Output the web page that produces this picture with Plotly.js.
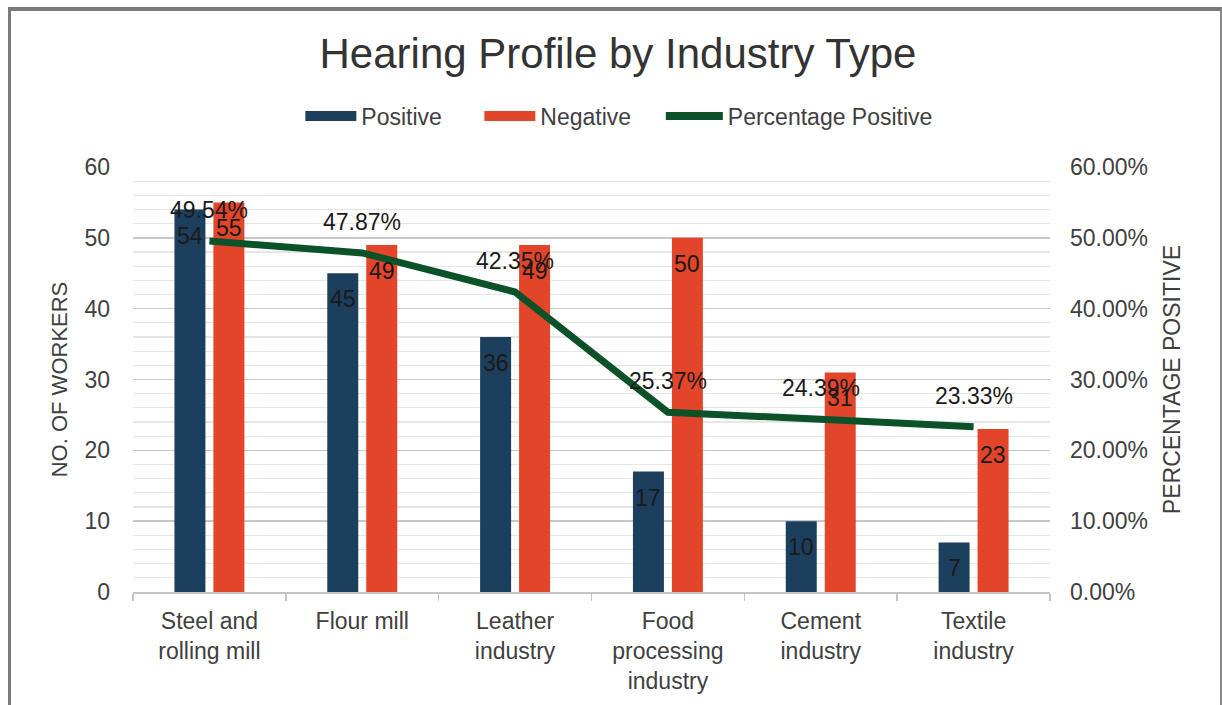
<!DOCTYPE html>
<html>
<head>
<meta charset="utf-8">
<script src="https://cdn.plot.ly/plotly-3.0.1.min.js"></script>
<style>
  html, body { margin: 0; padding: 0; background: #ffffff; }
  #wrap { position: relative; width: 1222px; height: 705px; overflow: hidden; }
  #chart { position: absolute; left: 0; top: 0; width: 1222px; height: 705px; }
  #frame { position: absolute; left: 8px; top: 7px; width: 1209px; height: 760px;
           border-left: 3px solid #7b7b7b; border-top: 4px solid #7b7b7b; border-right: 2px solid #8a8a8a;
           pointer-events: none; z-index: 10; }
</style>
</head>
<body>
<div id="wrap">
  <div id="chart"></div>
  <div id="frame"></div>
</div>
<script>
const categories = ['Steel and<br>rolling mill', 'Flour mill', 'Leather<br>industry',
                    'Food<br>processing<br>industry', 'Cement<br>industry', 'Textile<br>industry'];
const positive = [54, 45, 36, 17, 10, 7];
const negative = [55, 49, 49, 50, 31, 23];
const percentagePositive = [0.4954, 0.4787, 0.4235, 0.2537, 0.2439, 0.2333];
const seriesNames = ['Positive', 'Negative', 'Percentage Positive'];

const COL_POS = '#1d3f5e';
const COL_NEG = '#e2452a';
const COL_LINE = '#0b5229';
const FONT = 'Liberation Sans, Arial, sans-serif';
const TXT = '#404040';

const traces = [
  { type: 'bar', x: categories, y: positive, name: seriesNames[0], marker: { color: COL_POS },
    showlegend: false, hoverinfo: 'none' },
  { type: 'bar', x: categories, y: negative, name: seriesNames[1], marker: { color: COL_NEG },
    showlegend: false, hoverinfo: 'none' },
  { type: 'scatter', mode: 'lines', x: categories, y: percentagePositive, yaxis: 'y2',
    name: seriesNames[2], line: { color: COL_LINE, width: 7 }, showlegend: false, hoverinfo: 'none' },
  // legend entries
  { type: 'scatter', mode: 'lines', x: [null], y: [null], name: seriesNames[0],
    line: { color: COL_POS, width: 13 }, legend: 'legend' },
  { type: 'scatter', mode: 'lines', x: [null], y: [null], name: seriesNames[1],
    line: { color: COL_NEG, width: 13 }, legend: 'legend' },
  { type: 'scatter', mode: 'lines', x: [null], y: [null], name: seriesNames[2],
    line: { color: COL_LINE, width: 8 }, legend: 'legend2' }
];

const annotations = [];
categories.forEach((c, i) => {
  annotations.push({ x: c, y: positive[i], xref: 'x', yref: 'y', text: String(positive[i]),
    showarrow: false, xshift: -19.5, yshift: -26, yanchor: 'middle',
    font: { family: FONT, size: 23, color: '#1a1a1a' } });
  annotations.push({ x: c, y: negative[i], xref: 'x', yref: 'y', text: String(negative[i]),
    showarrow: false, xshift: 19.5, yshift: -26, yanchor: 'middle',
    font: { family: FONT, size: 23, color: '#1a1a1a' } });
  annotations.push({ x: c, y: percentagePositive[i], xref: 'x', yref: 'y2',
    text: (percentagePositive[i] * 100).toFixed(2) + '%',
    showarrow: false, yshift: 31, yanchor: 'middle',
    font: { family: FONT, size: 23, color: '#1a1a1a' } });
});

const layout = {
  width: 1222, height: 705,
  margin: { l: 133, r: 172, t: 167, b: 113 },
  paper_bgcolor: '#ffffff', plot_bgcolor: '#ffffff',
  font: { family: FONT, size: 23, color: TXT },
  title: { text: 'Hearing Profile by Industry Type', x: 0.5057, xref: 'container',
           y: 0.925, yref: 'container', yanchor: 'middle', xanchor: 'center',
           font: { family: FONT, size: 42, color: '#333333' } },
  barmode: 'group', bargap: 0.49, bargroupgap: 0.205,
  showlegend: true,
  legend: { orientation: 'h', x: 0.1825, xanchor: 'left', y: 1.12, yanchor: 'middle',
            font: { family: FONT, size: 23, color: TXT }, itemwidth: 51, traceorder: 'normal',
            entrywidth: 113, entrywidthmode: 'pixels' },
  legend2: { orientation: 'h', x: 0.5756, xanchor: 'left', y: 1.12, yanchor: 'middle',
             font: { family: FONT, size: 23, color: TXT }, itemwidth: 57 },
  xaxis: { type: 'category', showgrid: false, showline: true, linecolor: '#c4c4c4', linewidth: 1.5,
           ticks: 'outside', tickson: 'boundaries', ticklen: 7, tickcolor: '#c4c4c4', tickwidth: 1.5,
           tickfont: { family: FONT, size: 23, color: TXT }, ticklabelstandoff: 8, zeroline: false },
  yaxis: { range: [0, 60], dtick: 10, showgrid: true, gridcolor: '#c8c8c8', gridwidth: 1.5,
           zeroline: false, showline: false, ticks: '', ticklabelstandoff: 22,
           tickfont: { family: FONT, size: 23, color: TXT },
           minor: { dtick: 2, showgrid: true, gridcolor: '#e6e6e6', gridwidth: 1.3 },
           title: { text: 'NO. OF WORKERS', standoff: 10, font: { family: FONT, size: 22, color: TXT } } },
  yaxis2: { range: [0, 0.6], dtick: 0.1, tickformat: '.2%', overlaying: 'y', side: 'right',
            showgrid: false, zeroline: false, showline: false, ticks: '', ticklabelstandoff: 19,
            tickfont: { family: FONT, size: 23, color: TXT },
            title: { text: 'PERCENTAGE POSITIVE', standoff: 16, font: { family: FONT, size: 23, color: TXT } } },
  annotations: annotations
};

Plotly.newPlot('chart', traces, layout, { displayModeBar: false, staticPlot: true });
</script>
</body>
</html>
